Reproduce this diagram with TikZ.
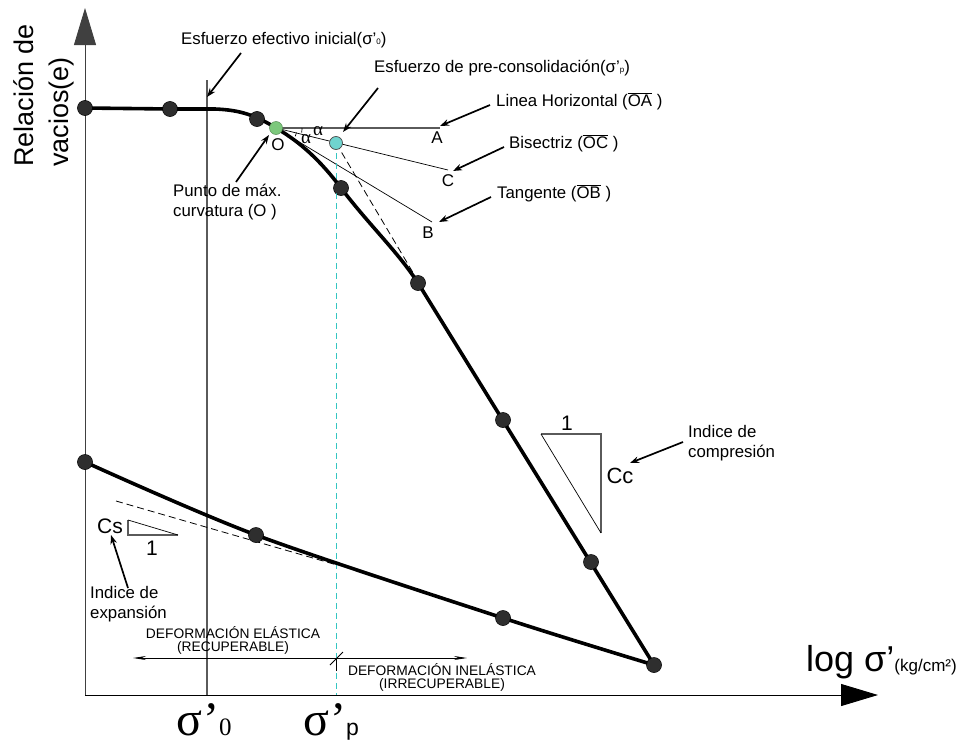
\documentclass[tikz,border=0pt]{standalone}
\usepackage{fontspec}
\setmainfont{Liberation Sans}
\newfontfamily\serifs{Liberation Serif}
\usetikzlibrary{arrows.meta,calc}
\newcommand\fsz[2]{\fontsize{#1}{#2}\selectfont}
\definecolor{cyanl}{HTML}{35C6C2}
\definecolor{cyanp}{HTML}{70D4CF}
\definecolor{greenp}{HTML}{7CC87C}
\definecolor{grayl}{HTML}{5A5A5A}
\begin{document}
\begin{tikzpicture}[x=1pt,y=-1pt,
  dot/.style={circle,fill=black!82,draw=black,line width=0.6pt,inner sep=0pt,minimum size=15pt},
  txt/.style={inner sep=0pt,font=\fsz{16.8}{20}},
  lbl/.style={inner sep=0pt,font=\fsz{17}{19}},
  note/.style={line width=1.7pt,-{Stealth[length=9pt,width=6.5pt]}},
  axis/.style={line width=0.9pt,-{Triangle[length=37pt,width=22pt]}},
  curve/.style={line width=3.6pt,line join=round},
  thinl/.style={line width=0.7pt},
  grayline/.style={line width=1.1pt,draw=grayl},
  cydash/.style={line width=1pt,draw=cyanl,dash pattern=on 6pt off 4pt},
  bkdash/.style={line width=0.8pt,dash pattern=on 7pt off 4pt}]
\useasboundingbox (0,0) rectangle (968,744);

% axes
\coordinate (orig) at (85,695);
\coordinate (ytop) at (85,8);
\coordinate (xend) at (878,695);
\draw[axis,draw=black!75] (orig) -- (ytop);
\draw[axis] (orig) -- (xend);

% sigma'0 vertical line
\coordinate (s0top) at (207,80);
\coordinate (s0bot) at (207,695);
\draw[grayline] (s0top) -- (s0bot);

% points
\node[dot] (p1) at (85,108) {};
\node[dot] (p2) at (170,109) {};
\node[dot] (p3) at (257,119) {};
\node[dot] (p4) at (341,188) {};
\node[dot] (p5) at (418,283) {};
\node[dot] (p6) at (503,420) {};
\node[dot] (p7) at (591,562) {};
\node[dot] (p8) at (654,665) {};
\node[dot] (p9) at (85,462) {};
\node[dot] (p10) at (256,535) {};
\node[dot] (p11) at (503,618) {};

% construction lines
\coordinate (O) at (276,128);
\coordinate (Aend) at (440,128);
\coordinate (Cend) at (448,170);
\coordinate (Bend) at (432,222);
\coordinate (P) at (336,143);
\draw[grayline] (O) -- (Aend);
\draw[thinl] (O) -- (Cend);
\draw[thinl] (O) -- (Bend);
\coordinate (tgend) at (437,313);
\draw[bkdash] (P) -- (tgend);
\coordinate (Pbot) at (336,695);
\draw[cydash] (P) -- (Pbot);
\coordinate (csa) at (116,501);
\coordinate (csb) at (337,565);
\draw[bkdash] (csa) -- (csb);

% angle marks
\draw[thinl] ($(O)+(26,0)$) arc[start angle=-2,end angle=8,radius=26];
\draw[thinl] ($(O)+(20.5,4.5)$) arc[start angle=13,end angle=24,radius=21];

% curves
\draw[curve] (p1.center) -- (p2.center) -- (215,109) .. controls (240,110) and (255,115) .. (O)
  .. controls (300,142) and (320,160) .. (p4.center) .. controls (370,226) and (398,252) .. (p5.center) -- (p8.center);
\draw[curve] plot[smooth,tension=0.5] coordinates {(p9.center) (p10.center) (p11.center) (p8.center)};

% redraw points on top
\foreach \p in {p1,p2,p3,p4,p5,p6,p7,p8,p9,p10,p11} \fill[black!82] (\p) circle (7pt);
\node[circle,fill=greenp,draw=greenp!70!black,line width=0.5pt,inner sep=0pt,minimum size=13pt] (On) at (O) {};
\node[circle,fill=cyanp,draw=black!70,line width=0.7pt,inner sep=0pt,minimum size=13pt] (Pn) at (P) {};

% letters
\node[lbl] (lA) at (437,138) {A};
\node[lbl] (lC) at (448,181) {C};
\node[lbl] (lB) at (428,233) {B};
\node[lbl] (lO) at (278,145) {O};
\node[inner sep=0pt,font=\serifs\fsz{19}{19}] (al1) at (318,131) {α};
\node[inner sep=0pt,font=\serifs\fsz{19}{19}] (al2) at (306,139) {α};

% annotation texts
\node[txt,anchor=west] (t1) at (181,40) {Esfuerzo efectivo inicial(σ’{\fsz{8}{8}0})};
\node[txt,anchor=west] (t2) at (374,68) {Esfuerzo de pre-consolidación(σ’{\fsz{8}{8}p})};
\node[txt,anchor=west] (t3) at (496,101) {Linea Horizontal ($\overline{\mbox{OA}}$\ )};
\node[txt,anchor=west] (t4) at (509,143) {Bisectriz ($\overline{\mbox{OC}}$\ )};
\node[txt,anchor=west] (t5) at (497,193) {Tangente ($\overline{\mbox{OB}}$\ )};
\node[txt,anchor=north west,align=left] (t6) at (173,184) {Punto de máx.\\curvatura (O\ )};
\node[txt,anchor=north west,align=left] (t7) at (688,425) {Indice de\\compresión};
\node[txt,anchor=north west,align=left] (t8) at (90,586) {Indice de\\expansión};

\coordinate (a1s) at (241,53);  \coordinate (a1e) at (207,97);
\coordinate (a2s) at (378,88);  \coordinate (a2e) at (343,132);
\coordinate (a3s) at (490,105); \coordinate (a3e) at (440,126);
\coordinate (a4s) at (504,147); \coordinate (a4e) at (453,171);
\coordinate (a5s) at (491,197); \coordinate (a5e) at (439,222);
\coordinate (a6s) at (236,182); \coordinate (a6e) at (269,135);
\coordinate (a7s) at (683,442); \coordinate (a7e) at (630,463);
\coordinate (a8s) at (128,588); \coordinate (a8e) at (111,535);
\draw[note] (a1s) -- (a1e);
\draw[note] (a2s) -- (a2e);
\draw[note] (a3s) -- (a3e);
\draw[note] (a4s) -- (a4e);
\draw[note] (a5s) -- (a5e);
\draw[note] (a6s) -- (a6e);
\draw[note] (a7s) -- (a7e);
\draw[note] (a8s) -- (a8e);

% Cc triangle
\coordinate (cc1) at (541,434);
\coordinate (cc2) at (601,434);
\coordinate (cc3) at (601,533);
\draw[grayline] (cc1) -- (cc2) -- (cc3);
\draw[thinl] (cc1) -- (cc3);
\node[inner sep=0pt,font=\fsz{21}{21}] (one1) at (567,423) {1};
\node[inner sep=0pt,font=\fsz{22}{22}] (Cc) at (620,476) {Cc};

% Cs triangle
\coordinate (cs1) at (128,520);
\coordinate (cs2) at (128,535);
\coordinate (cs3) at (178,535);
\draw[grayline] (cs1) -- (cs2) -- (cs3);
\draw[thinl] (cs1) -- (cs3);
\node[inner sep=0pt,font=\fsz{21}{21}] (Cs) at (110,526) {Cs};
\node[inner sep=0pt,font=\fsz{21}{21}] (one2) at (152,548) {1};

% deformation arrow
\coordinate (dl) at (133,658);
\coordinate (dr) at (467,658);
\draw[line width=0.8pt,{Stealth[length=13pt,width=4pt]}-{Stealth[length=13pt,width=4pt]}] (dl) -- (dr);
\coordinate (tk1) at (330,665); \coordinate (tk2) at (343,652);
\draw[line width=0.8pt] (tk1) -- (tk2);
\coordinate (tk3) at (336,658); \coordinate (tk4) at (336,671);
\draw[line width=0.9pt] (tk3) -- (tk4);
\node[inner sep=0pt,align=center,font=\fsz{13.8}{13}] (de) at (233,640) {DEFORMACIÓN ELÁSTICA\\(RECUPERABLE)};
\node[inner sep=0pt,align=center,font=\fsz{13.8}{13}] (di) at (442,677) {DEFORMACIÓN INELÁSTICA\\(IRRECUPERABLE)};

% axis labels
\node[inner sep=0pt,anchor=south west,rotate=90,align=left,font=\fsz{27}{35}] (ylab) at (74,167) {Relación de\\vacios(e)};
\node[inner sep=0pt,anchor=base west] (xlab) at (806,671) {{\fsz{36}{36}log σ’}{\fsz{17}{17}(kg/cm²)}};

% sigma labels
\node[inner sep=0pt,anchor=base west,font=\serifs\fsz{48}{48}] (s0) at (176,735) {σ\kern1pt’{\fsz{25}{25}0}};
\node[inner sep=0pt,anchor=base west,font=\serifs\fsz{48}{48}] (sp) at (303,735) {σ\kern1pt’{\sffamily\rmfamily\fontspec{Liberation Sans}\fsz{23}{23}p}};
\end{tikzpicture}
\end{document}
